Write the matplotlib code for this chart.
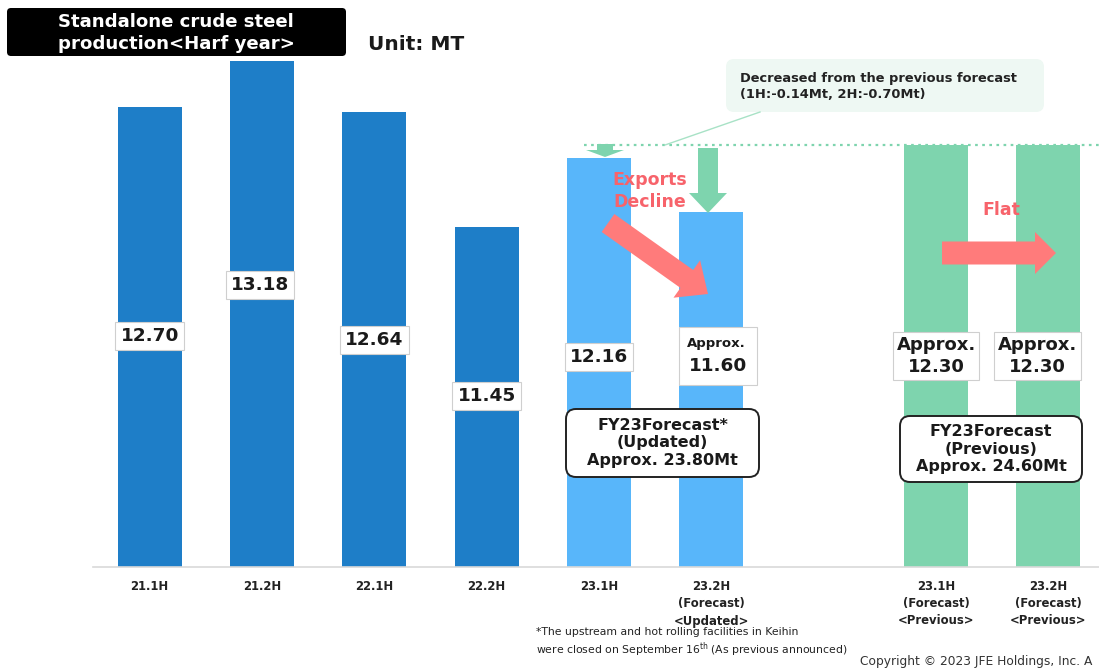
import numpy as np
import matplotlib.pyplot as plt
from matplotlib.patches import FancyBboxPatch, FancyArrow, Rectangle

# half-year crude steel production (Mt)
periods = ['21.1H', '21.2H', '22.1H', '22.2H', '23.1H',
           '23.2H\n(Forecast)\n<Updated>',
           '23.1H\n(Forecast)\n<Previous>', '23.2H\n(Forecast)\n<Previous>']
slots = [0, 1, 2, 3, 4, 5, 7, 8]
production = [12.70, 13.18, 12.64, 11.45, 12.16, 11.60, 12.30, 12.30]
series = ['actual', 'actual', 'actual', 'actual',
          'updated', 'updated', 'previous', 'previous']
approx = [False, False, False, False, False, True, True, True]

colors = {'actual': '#1e7ec8', 'updated': '#58b6fa', 'previous': '#7ed4ae'}
RED = '#ff7b7b'
RED_TXT = '#f7636b'
GREEN = '#7ed4ae'
DARK = '#1a1a1a'

# label placement (figure pixels)
label_y = [336, 285, 340, 396, 357, 356, 356, 356]
label_dx = [0, -2, 0, 0, 0, 7, 0, -11]

plt.rcParams['font.family'] = ['DejaVu Sans']

W, H = 1099, 668
fig = plt.figure(figsize=(W / 100, H / 100), dpi=100)
ax = fig.add_axes([93 / W, 101 / H, 1006 / W, 567 / H])
ax.bar(slots, production, width=0.57,
       color=[colors[s] for s in series], zorder=2)
ax.set_xlim(-0.505, 8.45)
ax.set_ylim(7.9, 13.812)
for s in ['top', 'left', 'right']:
    ax.spines[s].set_visible(False)
ax.spines['bottom'].set_color('#d9d9d9')
ax.spines['bottom'].set_linewidth(1.2)
ax.set_yticks([])
ax.set_xticks(slots)
ax.set_xticklabels(periods, fontsize=8.4, fontweight='bold', color='#222222')
plt.setp(ax.get_xticklabels(), linespacing=1.45)
ax.tick_params(axis='x', length=0, pad=9)

# previous-forecast level (dotted)
ax.hlines(production[6], 3.87, 8.45, colors=GREEN,
          linestyles=(0, (1.2, 2.0)), lw=1.6, zorder=3)

# overlay in figure pixels for annotations
ov = fig.add_axes([0, 0, 1, 1], zorder=5)
ov.set_xlim(0, W)
ov.set_ylim(H, 0)
ov.axis('off')

# value labels
for i in range(len(slots)):
    xpx = ax.transData.transform((slots[i], 0))[0] + label_dx[i]
    val = '%.2f' % production[i]
    if not approx[i]:
        ov.text(xpx, label_y[i], val, ha='center', va='center',
                fontsize=13.3, fontweight='bold', color=DARK,
                bbox=dict(boxstyle='square,pad=0.28', fc='white',
                          ec='#cfcfcf', lw=0.8))
    elif series[i] == 'updated':
        ov.add_patch(Rectangle((xpx - 39, label_y[i] - 29), 78, 58,
                               fc='white', ec='#cfcfcf', lw=0.8))
        ov.text(xpx - 2, label_y[i] - 13, 'Approx.', ha='center',
                va='center', fontsize=9.5, fontweight='bold', color=DARK)
        ov.text(xpx, label_y[i] + 10, val, ha='center', va='center',
                fontsize=13.3, fontweight='bold', color=DARK)
    else:
        ov.text(xpx, label_y[i], 'Approx.\n' + val, ha='center',
                va='center', fontsize=13, fontweight='bold', color=DARK,
                linespacing=1.3,
                bbox=dict(boxstyle='square,pad=0.2', fc='white',
                          ec='#cfcfcf', lw=0.8))

# forecast total boxes
for (x0, y0, w, h, txt) in [
        (566, 409, 193, 68, 'FY23Forecast*\n(Updated)\nApprox. 23.80Mt'),
        (900, 416, 182, 66, 'FY23Forecast\n(Previous)\nApprox. 24.60Mt')]:
    ov.add_patch(FancyBboxPatch((x0, y0), w, h,
                                boxstyle='round,pad=0,rounding_size=10',
                                fc='white', ec='#222222', lw=1.4))
    ov.text(x0 + w / 2, y0 + h / 2, txt, ha='center', va='center',
            fontsize=11.5, fontweight='bold', color=DARK, linespacing=1.25)

# callout
ov.add_patch(FancyBboxPatch((726, 59), 318, 53,
                            boxstyle='round,pad=0,rounding_size=8',
                            fc='#eef8f3', ec='none'))
ov.text(740, 86.5, 'Decreased from the previous forecast\n(1H:-0.14Mt, 2H:-0.70Mt)',
        ha='left', va='center', fontsize=9.4, fontweight='bold',
        color='#222222', linespacing=1.25)
ov.plot([760, 665], [112, 145], color='#a8e2c6', lw=1)

# arrows
ov.add_patch(FancyArrow(605, 144, 0, 13, width=16, head_width=38,
                        head_length=7, length_includes_head=True,
                        fc=GREEN, ec='none'))
ov.add_patch(FancyArrow(708, 148, 0, 65, width=20, head_width=38,
                        head_length=20, length_includes_head=True,
                        fc=GREEN, ec='none'))
ov.add_patch(FancyArrow(608, 223, 100, 71, width=22, head_width=46,
                        head_length=26, length_includes_head=True,
                        fc=RED, ec='none'))
ov.add_patch(FancyArrow(942, 253, 114, 0, width=23, head_width=42,
                        head_length=21, length_includes_head=True,
                        fc=RED, ec='none'))
ov.text(650, 191, 'Exports\nDecline', ha='center', va='center',
        fontsize=12.5, fontweight='bold', color=RED_TXT, linespacing=1.25)
ov.text(1001, 210, 'Flat', ha='center', va='center',
        fontsize=12.5, fontweight='bold', color=RED_TXT)

# title block
ov.add_patch(FancyBboxPatch((7, 8), 339, 48,
                            boxstyle='round,pad=0,rounding_size=4',
                            fc='black', ec='none'))
ov.text(176, 33, 'Standalone crude steel\nproduction<Harf year>',
        ha='center', va='center', fontsize=13.1, fontweight='bold',
        color='white', linespacing=1.25)
ov.text(368, 45, 'Unit: MT', ha='left', va='center', fontsize=14.5,
        fontweight='bold', color=DARK)

# footnotes
ov.text(536, 643, '*The upstream and hot rolling facilities in Keihin\n'
        'were closed on September 16$^{\\rm th}$ (As previous announced)',
        ha='left', va='center', fontsize=7.8, color='#222222',
        linespacing=1.3)
ov.text(860, 662, 'Copyright \u00a9 2023 JFE Holdings, Inc. A',
        ha='left', va='center', fontsize=8.8, color='#333333')

fig.savefig('out.png', dpi=100)
